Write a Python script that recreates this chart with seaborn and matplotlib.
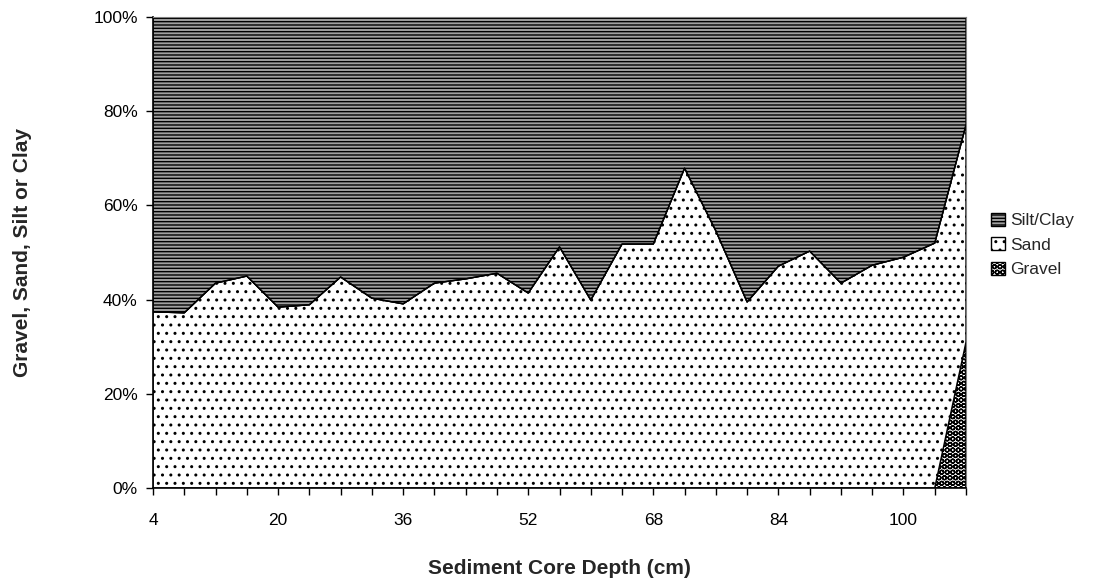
import matplotlib
matplotlib.use("Agg")
import matplotlib.pyplot as plt
import seaborn as sns
import numpy as np
import pandas as pd
from matplotlib.patches import Patch

# Data (percent)
depths = [4, 8, 12, 16, 20, 24, 28, 32, 36, 40, 44, 48, 52, 56, 60, 64, 68,
          72, 76, 80, 84, 88, 92, 96, 100, 104, 108]
sand_plus_gravel = [37.4, 37.2, 43.5, 45.0, 38.4, 38.9, 44.8, 40.3, 39.1, 43.5,
                    44.4, 45.6, 41.4, 51.2, 39.9, 51.8, 51.8, 67.9, 54.6, 39.5,
                    47.1, 50.3, 43.5, 47.3, 49.0, 52.0, 77.1]
gravel = [0, 0, 0, 0, 0, 0, 0, 0, 0, 0, 0, 0, 0, 0, 0, 0, 0, 0, 0, 0, 0, 0, 0,
          0, 0, 0, 31.0]
series_names = ["Silt/Clay", "Sand", "Gravel"]
y_ticks = [0, 20, 40, 60, 80, 100]
x_label_every = 4

df = pd.DataFrame({"depth": depths,
                   "Gravel": gravel,
                   "Sand": np.array(sand_plus_gravel) - np.array(gravel)})
df["Silt/Clay"] = 100 - df["Gravel"] - df["Sand"]
df["pos"] = np.arange(len(df))

sns.set_style("ticks")
plt.rcParams["font.family"] = ["Liberation Sans", "DejaVu Sans"]
plt.rcParams["hatch.linewidth"] = 1.0

fig = plt.figure(figsize=(11.18, 5.86), dpi=100)
ax = fig.add_axes([153 / 1118, 1 - 488 / 586, (966 - 153) / 1118, (488 - 17) / 586])

hatches = {"Gravel": "OOO", "Sand": "..", "Silt/Clay": "-----"}
faces = {"Gravel": "white", "Sand": "white", "Silt/Clay": "#a0a0a0"}
polys = ax.stackplot(df["pos"], df["Gravel"], df["Sand"], df["Silt/Clay"],
                     colors=[faces["Gravel"], faces["Sand"], faces["Silt/Clay"]],
                     edgecolor="black", linewidth=1.0)
for p, name in zip(polys, ["Gravel", "Sand", "Silt/Clay"]):
    p.set_hatch(hatches[name])

# boundary line via seaborn
df["top_sand"] = df["Gravel"] + df["Sand"]
sns.lineplot(data=df, x="pos", y="top_sand", color="black", linewidth=1.0, ax=ax)

ax.set_xlim(0, len(df) - 1)
ax.set_ylim(0, 100)
ax.set_xticks(df["pos"])
ax.set_xticklabels([str(d) if i % x_label_every == 0 else "" for i, d in enumerate(depths)])
ax.set_yticks(y_ticks)
ax.set_yticklabels([f"{v}%" for v in y_ticks])
ax.tick_params(axis="both", direction="out", length=5, width=1, colors="black",
               labelsize=12.5, pad=6)
ax.tick_params(axis="x", pad=13)

for s in ["left", "bottom"]:
    ax.spines[s].set_color("black")
    ax.spines[s].set_linewidth(1.2)
ax.spines["right"].set_visible(True)
ax.spines["right"].set_color("#808080")
ax.spines["top"].set_visible(True)
ax.spines["top"].set_color("#808080")

ax.set_xlabel("Sediment Core Depth (cm)", fontsize=15, fontweight="bold", labelpad=22)
ax.set_ylabel("Gravel, Sand, Silt or Clay", fontsize=15, fontweight="bold", labelpad=44)

handles = [Patch(facecolor=faces[n], edgecolor="black", hatch=hatches[n], label=n)
           for n in series_names]
fig.legend(handles=handles, loc="center left", bbox_to_anchor=(975 / 1118, 1 - 245 / 586),
           frameon=False, fontsize=12.5, handlelength=0.8, handleheight=0.8,
           handletextpad=0.3, labelspacing=0.5)

fig.savefig("out.png", dpi=100)
